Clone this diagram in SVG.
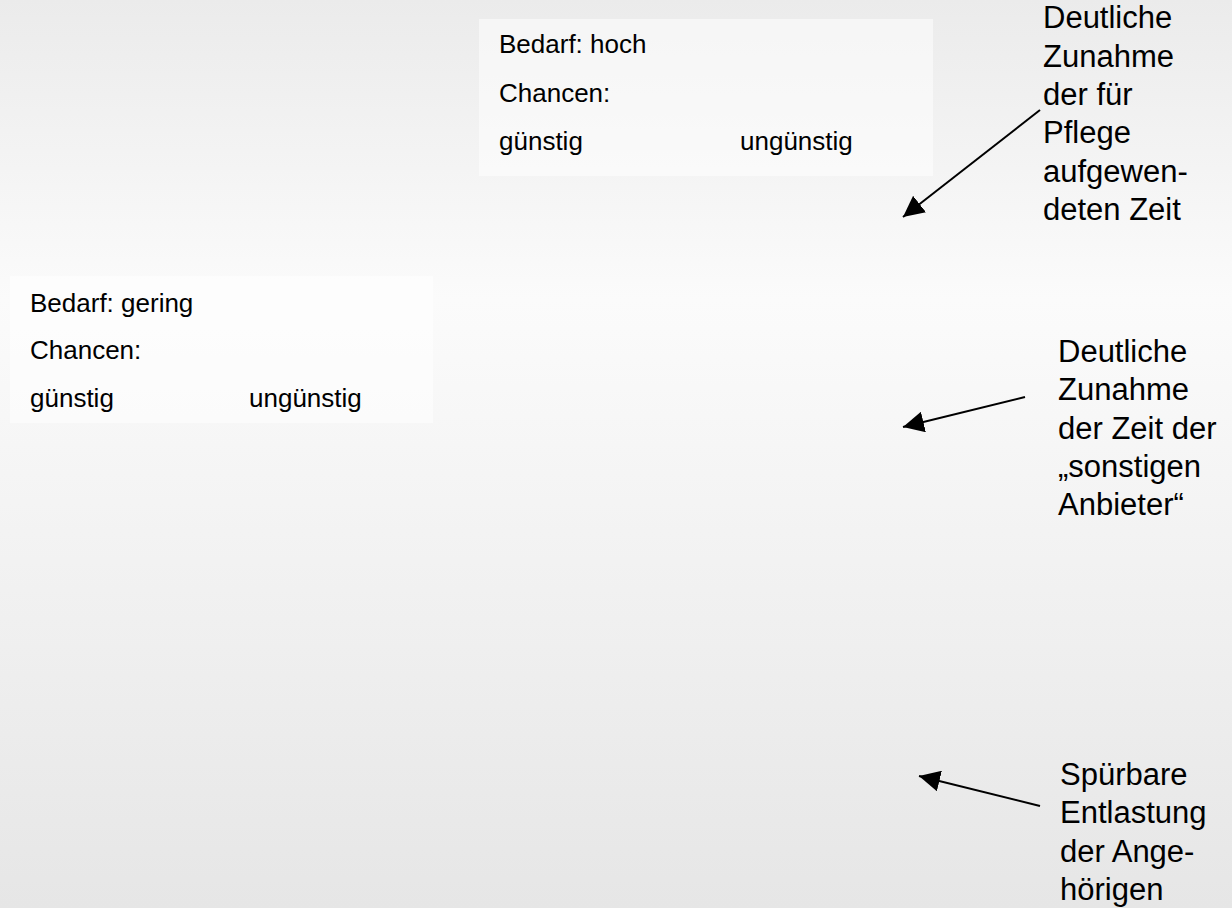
<svg xmlns="http://www.w3.org/2000/svg" width="1232" height="908" viewBox="0 0 1232 908">
<defs>
<linearGradient id="bg" x1="0" y1="0" x2="0" y2="1">
<stop offset="0" stop-color="#ebebeb"/>
<stop offset="0.33" stop-color="#fbfbfb"/>
<stop offset="1" stop-color="#e6e6e6"/>
</linearGradient>
<marker id="ah" viewBox="0 0 20 20" refX="20" refY="10" markerWidth="21" markerHeight="21" markerUnits="userSpaceOnUse" orient="auto">
<path d="M0,0 L20,10 L0,20 Z" fill="#000"/>
</marker>
</defs>
<style>
.box{fill:#ffffff;fill-opacity:0.5}
.t{font-family:"Liberation Sans",Arial,sans-serif;font-size:26px;fill:#000}
.r{font-family:"Liberation Sans",Arial,sans-serif;font-size:31px;fill:#000}
.c{stroke:#000;stroke-width:2;fill:none;marker-end:url(#ah)}
</style>
<rect width="1232" height="908" fill="url(#bg)"/>
<g id="box-hoch">
<rect class="box" x="479" y="19" width="454" height="157"/>
<text class="t" x="499" y="53">Bedarf: hoch</text>
<text class="t" x="499" y="102">Chancen:</text>
<text class="t" x="499" y="150">günstig</text>
<text class="t" x="740" y="150">ungünstig</text>
</g>
<g id="box-gering">
<rect class="box" x="10" y="276" width="423" height="147"/>
<text class="t" x="30" y="312">Bedarf: gering</text>
<text class="t" x="30" y="359">Chancen:</text>
<text class="t" x="30" y="407">günstig</text>
<text class="t" x="249" y="407">ungünstig</text>
</g>
<g id="label-pflege">
<text class="r" x="1043" y="28">Deutliche</text>
<text class="r" x="1043" y="66.5">Zunahme</text>
<text class="r" x="1043" y="105">der für</text>
<text class="r" x="1043" y="143">Pflege</text>
<text class="r" x="1043" y="181.5">aufgewen-</text>
<text class="r" x="1043" y="220">deten Zeit</text>
</g>
<g id="label-anbieter">
<text class="r" x="1058" y="362">Deutliche</text>
<text class="r" x="1058" y="400">Zunahme</text>
<text class="r" x="1058" y="438.5">der Zeit der</text>
<text class="r" x="1058" y="477">„sonstigen</text>
<text class="r" x="1058" y="515">Anbieter“</text>
</g>
<g id="label-entlastung">
<text class="r" x="1060" y="785">Spürbare</text>
<text class="r" x="1060" y="823">Entlastung</text>
<text class="r" x="1060" y="862">der Ange-</text>
<text class="r" x="1060" y="900">hörigen</text>
</g>
<g id="connectors">
<line class="c" x1="1040" y1="110" x2="903" y2="217"/>
<line class="c" x1="1025" y1="397" x2="903" y2="427"/>
<line class="c" x1="1040" y1="806" x2="919" y2="776"/>
</g>
</svg>
